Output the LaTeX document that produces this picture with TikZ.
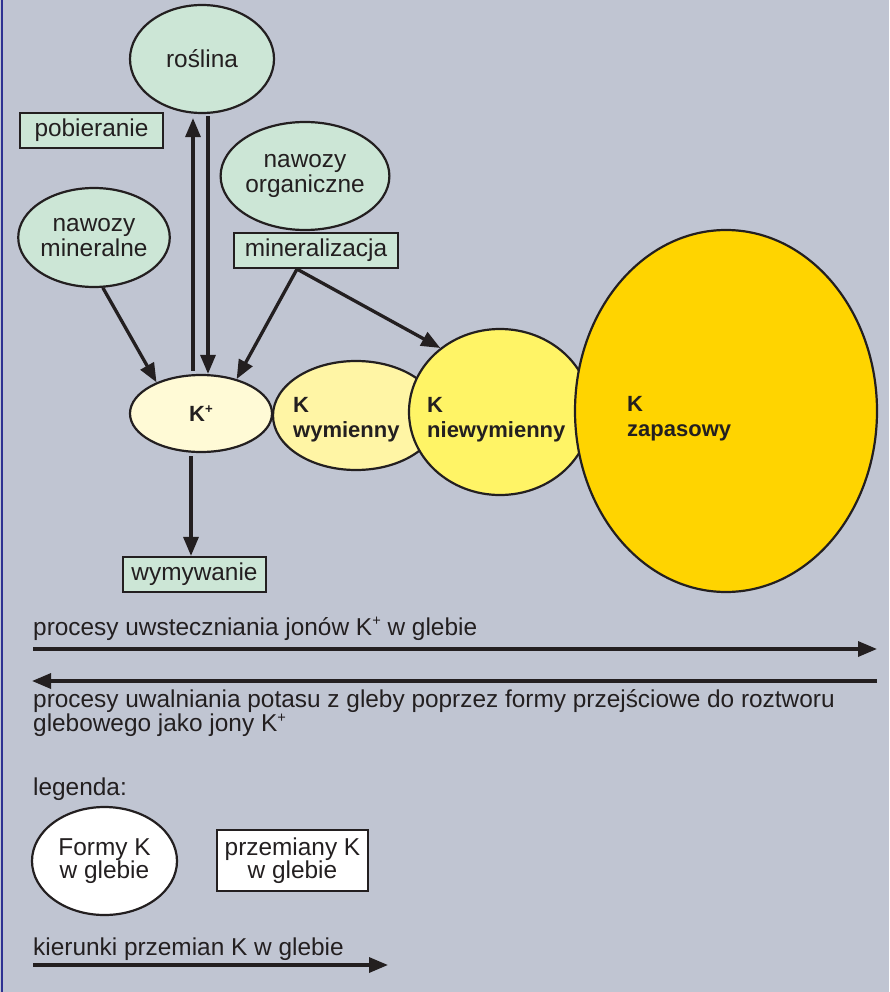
\documentclass[tikz,border=0pt]{standalone}
\usepackage{fontspec}
\setmainfont{Liberation Sans}
\usetikzlibrary{shapes.geometric,arrows.meta}

\definecolor{tlo}{HTML}{C0C5D2}
\definecolor{ramka}{HTML}{2E3192}
\definecolor{zielony}{HTML}{CCE6D6}
\definecolor{kremowy}{HTML}{FFFAD6}
\definecolor{jasnozolty}{HTML}{FFF5A5}
\definecolor{zolty}{HTML}{FFF466}
\definecolor{zloty}{HTML}{FFD400}
\definecolor{czarny}{HTML}{231F20}

\newcommand{\txt}{\fontsize{24.4}{24.5}\selectfont}
\newcommand{\txtb}{\fontsize{22}{25}\selectfont\bfseries}
\newcommand{\jon}{\raisebox{.38em}{\scalebox{.6}{+}}}

\begin{document}
\begin{tikzpicture}[x=1pt, y=-1pt,
    forma/.style={ellipse, draw=czarny, line width=2.2pt, inner sep=0pt, font=\txt, align=center, text=czarny},
    przemiana/.style={rectangle, draw=czarny, line width=2.2pt, fill=zielony, inner sep=0pt, minimum height=35pt, font=\txt, align=center, text=czarny},
    kierunek/.style={-{Triangle[length=19pt,width=15pt]}, line width=3.3pt, draw=czarny},
    opis/.style={font=\txt, text=czarny, inner sep=0pt, anchor=base west},
    pogrubiony/.style={font=\txtb, text=czarny, inner sep=0pt, align=left, anchor=north west}]

    % tlo i ramka
    \fill[tlo] (0,0) rectangle (889,992);
    \useasboundingbox (0,0) rectangle (889,992);
    \draw[ramka, line width=2.5pt] (2,0) -- (2,992);

    % formy K
    \node[forma, fill=zielony, minimum width=144pt, minimum height=108pt] (roslina) at (202,59) {roślina};
    \node[forma, fill=zielony, minimum width=144pt, minimum height=108pt] (norg) at (305,176) {nawozy\\organiczne};
    \node[forma, fill=zielony, minimum width=144pt, minimum height=99pt] (nmin) at (94,237.5) {nawozy\\mineralne};
    \node[forma, fill=kremowy, font=\txtb, minimum width=142pt, minimum height=77pt] (kplus) at (201,413.5) {K\jon};
    \node[forma, fill=jasnozolty, minimum width=166pt, minimum height=109pt] (wymienny) at (356,415.5) {};
    \node[forma, fill=zolty, minimum width=182pt, minimum height=166pt] (niew) at (500,412) {};
    \node[forma, fill=zloty, minimum width=302pt, minimum height=362pt] (zapas) at (726,411) {};
    \node[pogrubiony] (wymtxt) at (293,397) {K\\wymienny};
    \node[pogrubiony] (niewtxt) at (427,397) {K\\niewymienny};
    \node[pogrubiony] (zapastxt) at (627,396) {K\\zapasowy};

    % przemiany K
    \node[przemiana, minimum width=143pt] (pobier) at (91.5,130.5) {pobieranie};
    \node[przemiana, minimum width=164pt] (mineral) at (316,250.5) {mineralizacja};
    \node[przemiana, minimum width=143pt] (wymyw) at (194.5,574.5) {wymywanie};

    % kierunki
    \draw[kierunek, shorten <=3pt, shorten >=4pt] ([xshift=-8pt]kplus.north) -- ([xshift=-8pt]kplus.north |- roslina.south);
    \draw[kierunek, shorten <=2pt] ([xshift=7pt]kplus.north |- roslina.south) -- ([xshift=7pt]kplus.north);
    \draw[kierunek] (nmin.-80) -- (kplus.145);
    \draw[kierunek] ([xshift=-19pt]mineral.south) -- (kplus.44);
    \draw[kierunek] ([xshift=-19pt]mineral.south) -- (niew.133);
    \draw[kierunek, shorten <=3pt] ([xshift=-10pt]kplus.south) -- ([xshift=-10pt]kplus.south |- wymyw.north);

    % procesy
    \node[opis] (uwstecz) at (33,635) {procesy uwsteczniania jonów K\jon{} w glebie};
    \coordinate (u1) at (33,649);
    \coordinate (u2) at (877,649);
    \draw[kierunek] (u1) -- (u2);
    \coordinate (w1) at (877,681);
    \coordinate (w2) at (32,681);
    \draw[kierunek] (w1) -- (w2);
    \node[opis, align=left, anchor=north west] (uwaln) at (33,689) {procesy uwalniania potasu z gleby poprzez formy przejściowe do roztworu\\glebowego jako jony K\jon};

    % legenda
    \node[opis] (legenda) at (33,795) {legenda:};
    \node[forma, fill=white, font=\fontsize{24.4}{23.5}\selectfont, minimum width=145pt, minimum height=108pt] (lforma) at (104.5,861) {Formy K\\w glebie};
    \node[przemiana, fill=white, font=\fontsize{24.4}{23.5}\selectfont, minimum width=151pt, minimum height=61pt] (lprzem) at (292.5,860.5) {przemiany K\\w glebie};
    \node[opis] (kierunki) at (33,955) {kierunki przemian K w glebie};
    \coordinate (k1) at (33,965);
    \coordinate (k2) at (388,965);
    \draw[kierunek] (k1) -- (k2);
\end{tikzpicture}
\end{document}
